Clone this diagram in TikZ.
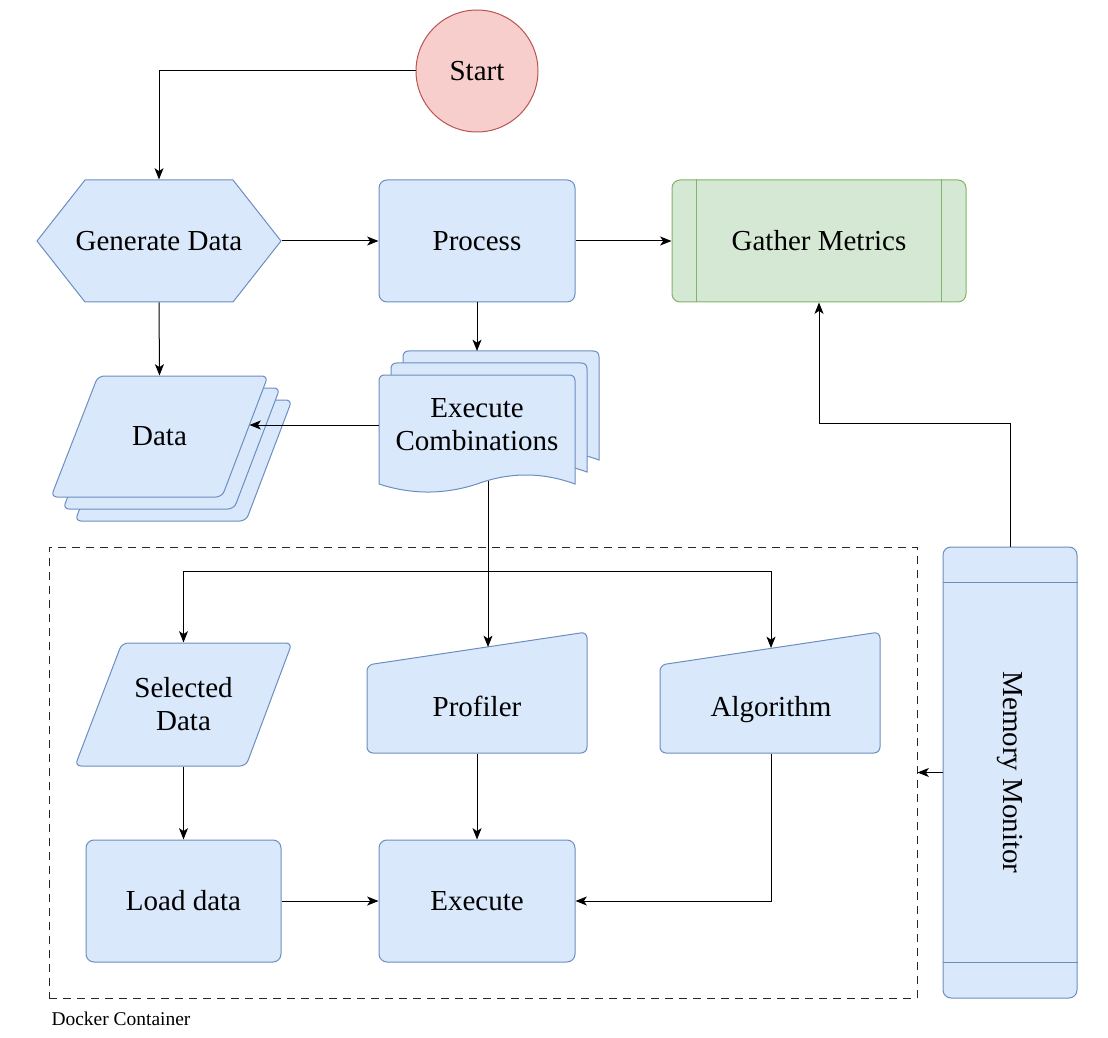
\documentclass[tikz,border=0pt]{standalone}
\usepackage{fontspec}
\setmainfont{Liberation Serif}
\usetikzlibrary{arrows.meta,calc}

\definecolor{bluefill}{RGB}{218,232,252}
\definecolor{bluedraw}{RGB}{108,142,191}
\definecolor{greenfill}{RGB}{213,232,212}
\definecolor{greendraw}{RGB}{130,179,102}
\definecolor{redfill}{RGB}{248,206,204}
\definecolor{reddraw}{RGB}{184,84,80}

\tikzset{every picture/.style={line width=0.75pt}}
\tikzset{
  flowbox/.style={draw=bluedraw, fill=bluefill, line width=0.75pt},
  lbl/.style={font=\fontsize{21.75}{24.75}\selectfont, align=center, inner sep=0pt},
  roundbox/.style={flowbox, rectangle, rounded corners=6pt, minimum width=147pt, minimum height=91.5pt, lbl},
  textbox/.style 2 args={lbl, minimum width=#1, minimum height=#2},
  link/.style={-{Stealth[length=8.5pt,width=6.75pt,inset=2.25pt]}, line width=0.75pt},
  dockframe/.style={draw=black!85, dash pattern=on 6pt off 4.5pt, line width=0.75pt},
  pics/datapage/.style={code={
    \draw[flowbox, yscale=-1, rounded corners=4.5pt] (0,0) -- (170,0) -- (124,121) -- (-47,121) -- cycle;
  }},
  pics/docpage/.style={code={
    \draw[flowbox, yscale=-1] (0,109) -- (0,6) .. controls (0,2) and (2,0) .. (6,0) -- (190,0) .. controls (194,0) and (196,2) .. (196,6) -- (196,109) .. controls (163.3,97) and (130.7,97) .. (98,109) .. controls (65.3,119.7) and (32.7,119.7) .. (0,109) -- cycle;
  }},
}

\begin{document}
\begin{tikzpicture}[x=0.75pt,y=0.75pt,yscale=-1,xscale=1]
\useasboundingbox (0,0) rectangle (1108,1038);

% Docker container
\node[dockframe, minimum width=651pt, minimum height=338.25pt] (dock) at (483,772.5) {};
\node[anchor=west, inner sep=0pt, font=\fontsize{14.6}{17}\selectfont] (docklbl) at (51,1019) {Docker Container};

% Start
\node[circle, draw=reddraw, fill=redfill, minimum size=91.5pt, lbl] (start) at (477,71) {Start};

% Generate Data (hexagon)
\draw[flowbox] (37,241) -- (85,180) -- (233,180) -- (281,241) -- (233,302) -- (85,302) -- cycle;
\node[textbox={183pt}{91.5pt}] (gen) at (159,241) {Generate Data};

% Process, Gather Metrics
\node[roundbox] (proc) at (477,241) {Process};
\node[roundbox, draw=greendraw, fill=greenfill, minimum width=220.5pt] (gm) at (819,241) {Gather Metrics};
\draw[greendraw] ($(gm.north west)+(25,0)$) -- ($(gm.south west)+(25,0)$);
\draw[greendraw] ($(gm.north east)+(-25,0)$) -- ($(gm.south east)+(-25,0)$);

% Data (stacked)
\pic at (122,400) {datapage};
\pic at (110,388) {datapage};
\pic at (98,376) {datapage};
\node[textbox={162.75pt}{90.75pt}] (data) at (159.5,436.5) {Data};
\coordinate (datain) at (249.5,425);

% Execute Combinations (stacked documents)
\pic at (403,351) {docpage};
\pic at (391,363) {docpage};
\pic at (379,375) {docpage};
\node[textbox={147pt}{75pt}] (execc) at (477,425) {Execute\\Combinations};
\coordinate (execin) at (477,351);
\coordinate (execout) at (488,481);
\coordinate (split) at (488,571);

% Selected Data
\draw[flowbox, rounded corners=4.5pt] (122,643) -- (292,643) -- (246,766) -- (75,766) -- cycle;
\node[textbox={162.75pt}{92.25pt}] (sel) at (183.5,704.5) {Selected\\Data};

% Profiler, Algorithm (manual input)
\draw[flowbox, rounded corners=4.5pt] (367,665) -- (587,632) -- (587,753) -- (367,753) -- cycle;
\node[textbox={165pt}{70.5pt}] (prof) at (477,706) {Profiler};
\coordinate (profin) at (488,647);
\draw[flowbox, rounded corners=4.5pt] (660,665) -- (880,632) -- (880,753) -- (660,753) -- cycle;
\node[textbox={165pt}{70.5pt}, text depth=0pt] (algo) at (771,706) {Algorithm};
\coordinate (algoin) at (771,648);

% Load data, Execute
\node[roundbox, minimum width=146.25pt] (load) at (183.5,901) {Load data};
\node[roundbox] (exe) at (477,901) {Execute};

% Memory Monitor
\node[roundbox, minimum width=100.5pt, minimum height=338.25pt] (mem) at (1010,772.5) {};
\draw[bluedraw] ($(mem.north west)+(0,36)$) -- ($(mem.north east)+(0,36)$);
\draw[bluedraw] ($(mem.south west)+(0,-36)$) -- ($(mem.south east)+(0,-36)$);
\node[lbl, rotate=-90] (memlbl) at (mem.center) {Memory Monitor};

% Connectors
\draw[link] (start.west) -| (gen.north);
\draw[link] (gen.east) -- (proc.west);
\draw[link] (proc.east) -- (gm.west);
\draw[link] (gen.south) -- (data.north);
\draw[link] (proc.south) -- (execin);
\draw[link] (execc.west) -- (datain);
\draw (execout) -- (split);
\draw[link] (split) -- (profin);
\draw[link] (split) -| (sel.north);
\draw[link] (split) -| (algoin);
\draw[link] (sel.south) -- (load.north);
\draw[link] (prof.south) -- (exe.north);
\draw[link] (load.east) -- (exe.west);
\draw[link] (algo.south) |- (exe.east);
\draw[link] (mem.north) -- ++(0,-123) -| (gm.south);
\draw[link] (mem.west) -- (mem.west -| dock.east);

\end{tikzpicture}
\end{document}
